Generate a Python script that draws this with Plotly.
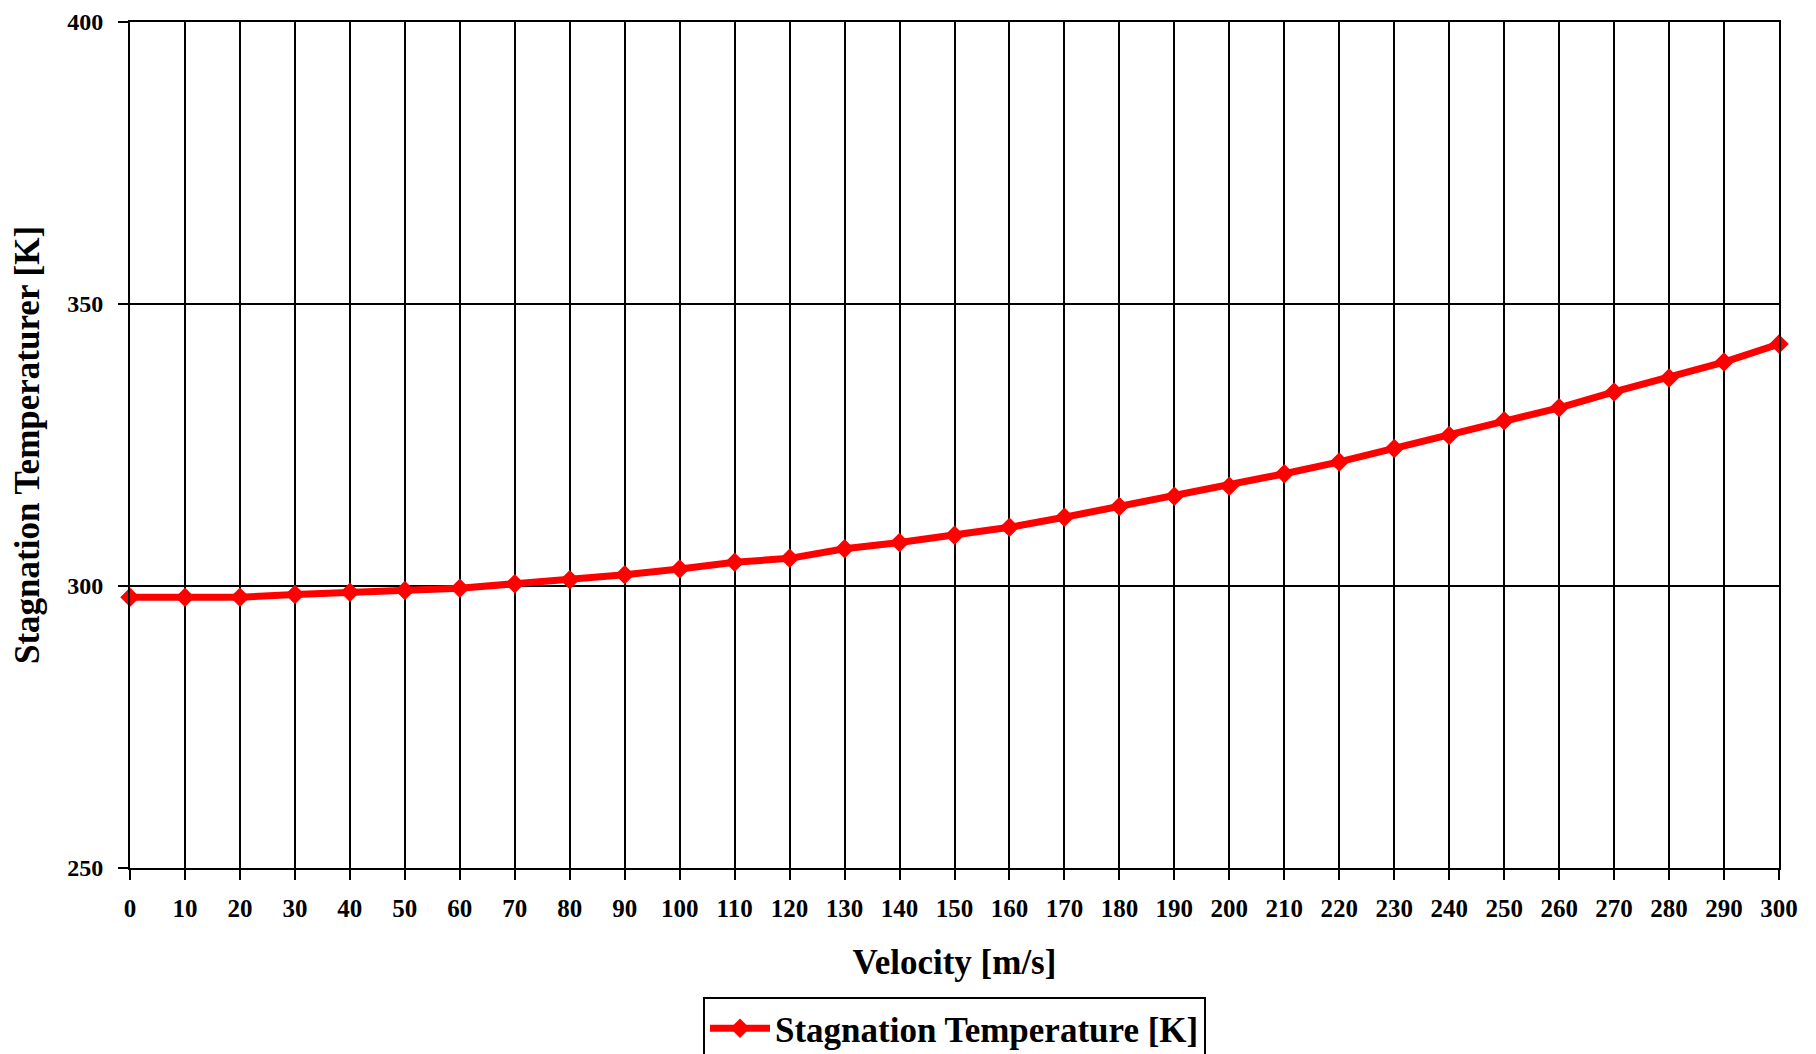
import plotly.graph_objects as go

velocity = list(range(0, 301, 10))
stagnation_temp = [298.0, 298.0, 298.0, 298.5, 298.9, 299.2, 299.6, 300.4, 301.1, 302.0,
                   303.0, 304.2, 304.9, 306.6, 307.7, 309.0, 310.4, 312.2, 314.1, 315.9,
                   317.7, 319.9, 322.0, 324.4, 326.7, 329.3, 331.6, 334.4, 336.9, 339.7,
                   342.9]

font_family = 'Liberation Serif'

fig = go.Figure()

fig.add_trace(
    go.Scatter(
        x=velocity, y=stagnation_temp,
        name='<b>Stagnation Temperature [K]</b>',
        mode='lines+markers',
        line=dict(color='#ff0000', width=7),
        marker=dict(symbol='diamond', size=15, color='#ff0000'),
        cliponaxis=False)
)

# page body adds an 8px offset, margins compensate for it
fig.update_layout(
    width=1816, height=1054,
    margin=dict(l=122, r=45, t=14, b=194),
    plot_bgcolor='white',
    paper_bgcolor='white',
    font=dict(family=font_family, color='black'),
    showlegend=True,
    legend=dict(
        x=0.5, xanchor='center', xref='paper',
        y=0.002, yanchor='bottom', yref='container',
        orientation='h',
        bordercolor='black', borderwidth=2,
        font=dict(size=35, family=font_family),
        itemwidth=60,
    ),
)

fig.update_xaxes(
    range=[0, 300], dtick=10, tick0=0, automargin=False,
    showgrid=True, gridcolor='black', gridwidth=2,
    showline=True, linecolor='black', linewidth=2, mirror=True,
    ticks='outside', ticklen=10, tickwidth=2, tickcolor='black',
    tickfont=dict(size=25, family=font_family),
    ticklabelstandoff=7, ticklabeloverflow='allow',
    title=dict(text='<b>Velocity [m/s]</b>', font=dict(size=35), standoff=28),
    zeroline=False,
)

fig.update_yaxes(
    range=[250, 400], dtick=50, tick0=250, automargin=False,
    showgrid=True, gridcolor='black', gridwidth=2,
    showline=True, linecolor='black', linewidth=2, mirror=True,
    ticks='outside', ticklen=10, tickwidth=2, tickcolor='black',
    tickfont=dict(size=24, family=font_family),
    ticklabelstandoff=10, ticklabeloverflow='allow',
    title=dict(text='<b>Stagnation Temperaturer [K]</b>', font=dict(size=35), standoff=20),
    zeroline=False,
)

fig.update_xaxes(tickprefix='<b>', ticksuffix='</b>')
fig.update_yaxes(tickprefix='<b>', ticksuffix='</b>')

fig.write_html('out.html')
